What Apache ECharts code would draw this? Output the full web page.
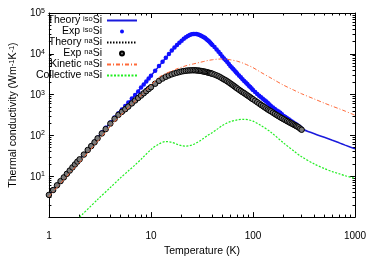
<!DOCTYPE html>
<html><head><meta charset="utf-8">
<script src="https://cdn.jsdelivr.net/npm/echarts@6/dist/echarts.min.js"></script>
<style>html,body{margin:0;padding:0;background:#fff}#c{width:374px;height:262px}</style>
</head><body><div id="c"></div>
<script>
// ---- data ----
const curveT = [1, 1.5, 2, 3, 4, 5, 6, 7, 8, 10, 12, 14, 16, 18, 20, 22, 24, 26, 28, 30, 33, 36, 40, 45, 50, 55, 60, 70, 80, 90, 100, 120, 150, 200, 250, 300, 400, 500, 600, 700, 800, 1000];
const isoTheory = [3.5, 11, 26, 90, 208, 387, 640, 985, 1490, 2900, 5000, 8000, 12000, 16500, 21000, 25500, 29000, 30800, 30500, 29000, 25500, 21500, 16500, 11800, 8600, 6500, 5000, 3300, 2300, 1700, 1300, 860, 530, 300, 200, 146, 110, 90, 76, 66, 58, 47];
const naTheory = [3.5, 11, 26, 88, 200, 350, 510, 720, 950, 1520, 2180, 2740, 3150, 3450, 3700, 3850, 3930, 3960, 3920, 3850, 3720, 3500, 3250, 2880, 2500, 2150, 1850, 1400, 1120, 920, 770, 560, 390, 245, 175, 138];
const kinetic = [3.2, 10, 22, 72, 165, 305, 475, 690, 950, 1700, 2650, 3300, 3800, 4300, 4700, 5100, 5400, 5650, 5900, 6150, 6500, 6850, 7150, 7400, 7450, 7350, 7150, 6600, 5900, 5200, 4600, 3500, 2550, 1700, 1300, 1050, 780, 620, 520, 450, 395, 313];
const collT = [2, 3, 4, 5, 6, 7, 8, 10, 12, 14, 16, 18, 20, 22, 24, 26, 28, 30, 33, 36, 40, 45, 50, 55, 60, 70, 80, 90, 100, 120, 150, 200, 250, 300, 400, 500, 600, 700, 800, 1000];
const collective = [1.0, 2.7, 5.3, 9, 13.5, 19, 26, 45, 62, 71, 68, 61, 56, 55, 56, 60, 66, 73, 86, 100, 118, 145, 175, 200, 218, 240, 249, 242, 225, 175, 120, 65, 42, 30, 20, 15.5, 13, 11.5, 10.3, 8.9];
const expT = [1, 1.1, 1.2, 1.3, 1.4, 1.5, 1.6, 1.7, 1.8, 1.9, 2, 2.2, 2.4, 2.6, 2.8, 3, 3.3, 3.6, 4, 4.4, 4.8, 5.2, 5.6, 6, 6.5, 7, 7.5, 8, 8.5, 9, 9.5,
  10, 11, 12, 13, 14, 15, 16, 17, 18, 19, 20, 21, 22, 23, 24, 25, 26, 27,
  28, 29, 30, 31, 32, 33, 34, 35, 36, 37, 38, 39, 40, 42, 44, 46, 48, 50, 52, 54, 56, 58, 60, 62, 64, 66, 68, 70,
  73, 76, 79, 82, 85, 88, 91, 94, 97, 100, 105, 110, 115, 120, 125, 130, 135, 140, 145, 150,
  157, 164, 171, 178, 185, 192, 200, 208, 216, 224, 232, 240, 248, 256, 264, 272, 280, 290, 300];
const expIso = [3.5, 4.6, 6.0, 7.6, 9.4, 11.5, 13.8, 16.5, 19.5, 22.8,
  26, 34, 44, 56, 70, 88, 118, 155, 208, 275, 350, 430, 525,
  640, 800, 985, 1200, 1490, 1780, 2100, 2480,
  2900, 3850, 5000, 6400, 8000, 9900, 12000, 14200, 16500, 18800, 21000, 23300, 25500, 27400, 29000, 30200, 30800, 30800,
  30500, 29800, 29000, 27900, 26700, 25500, 24300, 22900, 21500, 20200, 19000, 17700, 16500,
  14600, 12800, 11200, 9900, 8600, 7700, 7000, 6300, 5600, 5000, 4650, 4250, 3900, 3600, 3300,
  2950, 2650, 2380, 2170, 1980, 1810, 1660, 1540, 1410, 1300, 1160, 1040, 945, 860, 795, 730, 675, 620, 575, 530,
  485, 445, 410, 385, 360, 330, 300, 285, 263, 248, 233, 220, 208, 197, 187, 178, 168, 156, 146];
const expNa = [3.5, 4.6, 6.0, 7.6, 9.4, 11.5, 13.8, 16.5, 19.5, 22.8,
  26, 34, 44, 55, 68, 85, 112, 143, 195, 255, 320, 380, 440,
  510, 610, 720, 830, 950, 1080, 1220, 1370,
  1520, 1850, 2180, 2480, 2740, 2960, 3150, 3310, 3450, 3580, 3700, 3780, 3850, 3900, 3930, 3950, 3960, 3950,
  3920, 3890, 3850, 3800, 3740, 3690, 3630, 3570, 3500, 3440, 3380, 3310, 3250,
  3100, 2960, 2820, 2660, 2500, 2360, 2250, 2120, 2000, 1880, 1780, 1680, 1590, 1500, 1420,
  1320, 1230, 1150, 1090, 1020, 960, 910, 860, 810, 770, 710, 655, 605, 560, 525, 490, 460, 432, 410, 390,
  362, 337, 315, 297, 280, 265, 250, 237, 225, 214, 204, 195, 187, 179, 172, 165, 158, 147, 138];
const xMajor = [1, 10, 100, 1000];
const xMinor = [2, 3, 4, 5, 6, 7, 8, 9, 20, 30, 40, 50, 60, 70, 80, 90, 200, 300, 400, 500, 600, 700, 800, 900];
const yMajor = [1, 10, 100, 1000, 10000, 100000];
const yLabels = [10, 100, 1000, 10000, 100000];
const yMinor = [];
[1, 10, 100, 1000, 10000].forEach(d => { for (let k = 2; k <= 9; k++) yMinor.push(k * d); });
const legendParts = {
  'Theory iso': ['Theory ', 'iso'],
  'Exp iso': ['Exp ', 'iso'],
  'Theory na': ['Theory ', 'na'],
  'Exp na': ['Exp ', 'na'],
  'Kinetic na': ['Kinetic ', 'na'],
  'Collective na': ['Collective ', 'na']
};

const pairs = (xs, ys) => ys.map((y, i) => [xs[i], y]);
const FONT = 'Liberation Sans';
const chart = echarts.init(document.getElementById('c'), null, {renderer: 'canvas'});

function xAx(pos, minor, extra) {
  return Object.assign({
    type: 'log', logBase: 10, min: 1, max: 1000, position: pos,
    axisLine: {show: !minor, lineStyle: {color: '#000', width: 1}},
    axisTick: {show: true, inside: true, length: minor ? 2.5 : 5, lineStyle: {color: '#000', width: 1}, customValues: minor ? xMinor : xMajor},
    axisLabel: {show: false},
    splitLine: {show: false}, minorTick: {show: false}
  }, extra || {});
}
function yAx(pos, minor, extra) {
  return Object.assign({
    type: 'log', logBase: 10, min: 1, max: 100000, position: pos,
    axisLine: {show: !minor, lineStyle: {color: '#000', width: 1}},
    axisTick: {show: true, inside: true, length: minor ? 2.5 : 5, lineStyle: {color: '#000', width: 1}, customValues: minor ? yMinor : yMajor},
    axisLabel: {show: false},
    splitLine: {show: false}, minorTick: {show: false}
  }, extra || {});
}
const richMain = {fontSize: 10.5, lineHeight: 11, verticalAlign: 'bottom', fontFamily: FONT, color: '#000'};
const richSup = {fontSize: 7.5, lineHeight: 5, verticalAlign: 'top', fontFamily: FONT, color: '#000'};

const option = {
  animation: false,
  backgroundColor: '#fff',
  textStyle: {fontFamily: FONT},
  grid: {left: 38.5, right: 19, top: 13, bottom: 34, containLabel: false},
  legend: {
    orient: 'vertical', align: 'right', right: 236, top: 15, padding: 0,
    itemWidth: 30, itemHeight: 4, itemGap: 0, selectedMode: false,
    data: Object.keys(legendParts),
    formatter: n => '{a|' + legendParts[n][0] + '}{s|' + legendParts[n][1] + '}{a|Si}',
    textStyle: {color: '#000', fontFamily: FONT, rich: {a: richMain, s: richSup}}
  },
  xAxis: [
    xAx('bottom', false, {
      axisLabel: {show: true, customValues: xMajor, formatter: v => String(v), fontSize: 10, color: '#000', fontFamily: FONT, margin: 14},
      name: 'Temperature (K)', nameLocation: 'middle', nameGap: 25,
      nameTextStyle: {fontSize: 10.5, color: '#000', fontFamily: FONT}
    }),
    xAx('bottom', true),
    xAx('top', false),
    xAx('top', true)
  ],
  yAxis: [
    yAx('left', false, {
      axisLabel: {show: true, customValues: yLabels, margin: 4, color: '#000',
        formatter: v => '{b|10}{e|' + Math.round(Math.log10(v)) + '}',
        rich: {
          b: {fontSize: 10, lineHeight: 11, verticalAlign: 'bottom', fontFamily: FONT, color: '#000'},
          e: {fontSize: 7, lineHeight: 5, verticalAlign: 'top', fontFamily: FONT, color: '#000'}
        }
      },
      name: '{a|Thermal conductivity (Wm}{s|-1}{a|K}{s|-1}{a|)}', nameLocation: 'middle', nameGap: 27,
      nameRotate: 90,
      nameTextStyle: {color: '#000', fontFamily: FONT, rich: {a: richMain, s: richSup}}
    }),
    yAx('left', true),
    yAx('right', false),
    yAx('right', true)
  ],
  series: [
    {name: 'Theory iso', type: 'line', xAxisIndex: 0, yAxisIndex: 0, data: pairs(curveT, isoTheory),
      symbol: 'none', smooth: 0.3, itemStyle: {color: 'rgba(0,0,0,0)'},
      lineStyle: {color: '#1a1adc', width: 1.5}, z: 2},
    {name: 'Exp iso', type: 'scatter', xAxisIndex: 0, yAxisIndex: 0, data: pairs(expT, expIso),
      symbol: 'circle', symbolSize: 4.5, itemStyle: {color: '#1010ff', opacity: 1}, z: 3},
    {name: 'Theory na', type: 'line', xAxisIndex: 0, yAxisIndex: 0, data: pairs(curveT, naTheory),
      symbol: 'none', smooth: 0.3, itemStyle: {color: 'rgba(0,0,0,0)'},
      lineStyle: {color: '#000', width: 1, type: [1.5, 1.5]}, z: 4},
    {name: 'Exp na', type: 'scatter', xAxisIndex: 0, yAxisIndex: 0, data: pairs(expT, expNa),
      symbol: 'circle', symbolSize: 5.5, itemStyle: {color: '#7a7a7a', borderColor: '#000', borderWidth: 1, opacity: 1}, z: 5},
    {name: 'Kinetic na', type: 'line', xAxisIndex: 0, yAxisIndex: 0, data: pairs(curveT, kinetic),
      symbol: 'none', smooth: 0.3, itemStyle: {color: 'rgba(0,0,0,0)'},
      lineStyle: {color: '#ff6a3a', width: 1, type: [4, 2, 1, 2]}, z: 6},
    {name: 'Collective na', type: 'line', xAxisIndex: 0, yAxisIndex: 0, data: pairs(collT, collective),
      symbol: 'none', smooth: 0.3, itemStyle: {color: 'rgba(0,0,0,0)'},
      lineStyle: {color: '#22ee22', width: 1.2, type: [2, 1.5]}, z: 7}
  ]
};
chart.setOption(option);
</script>
</body></html>
